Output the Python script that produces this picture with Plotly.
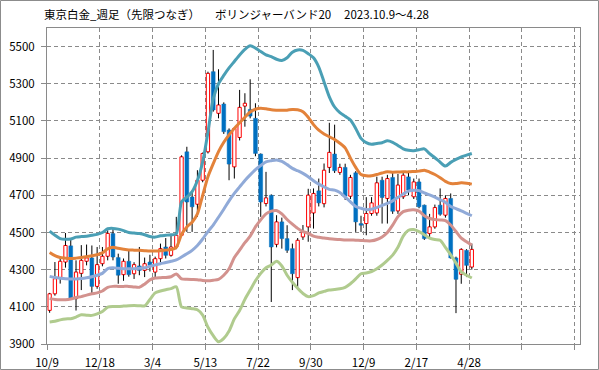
import plotly.graph_objects as go

# ---- data (weekly candles, 2023-10-09 .. 2025-04-28) ----
opens = [4081, 4170, 4258, 4341, 4428, 4144, 4280, 4345, 4363, 4210,
         4332, 4372, 4494, 4365, 4273, 4345, 4278, 4320, 4296, 4341,
         4287, 4359, 4422, 4377, 4422, 4485, 4934, 4691, 4652, 4781,
         4934, 5365, 5141, 5191, 5051, 4853, 5011, 5180, 5162, 5114,
         4922, 4656, 4700, 4436, 4557, 4467, 4413, 4257, 4476, 4530,
         4605, 4724, 4655, 4850, 4922, 4823, 4850, 4695, 4821, 4548,
         4548, 4602, 4605, 4781, 4683, 4796, 4616, 4692, 4799, 4692,
         4772, 4647, 4494, 4530, 4647, 4593, 4683, 4363, 4275, 4404,
         4314]
highs = [4175, 4341, 4372, 4497, 4460, 4350, 4432, 4435, 4430, 4422,
         4422, 4512, 4520, 4386, 4360, 4404, 4340, 4422, 4365, 4380,
         4370, 4440, 4470, 4490, 4584, 4915, 4961, 4720, 4835, 4930,
         5365, 5482, 5378, 5200, 5060, 5065, 5267, 5249, 5324, 5195,
         4925, 4826, 4705, 4593, 4580, 4539, 4440, 4470, 4540, 4735,
         4737, 4790, 4871, 5090, 5080, 4870, 4870, 4810, 4830, 4590,
         4690, 4690, 4800, 4800, 4810, 4820, 4815, 4820, 4830, 4790,
         4790, 4650, 4600, 4650, 4737, 4700, 4710, 4370, 4415, 4410,
         4440]
lows = [4068, 4160, 4225, 4311, 4140, 4080, 4190, 4323, 4165, 4197,
        4318, 4350, 4350, 4224, 4240, 4262, 4250, 4270, 4260, 4290,
        4260, 4340, 4360, 4370, 4410, 4485, 4503, 4503, 4584, 4770,
        4925, 5150, 5114, 5030, 4781, 4790, 4995, 5069, 5114, 4910,
        4584, 4640, 4126, 4420, 4413, 4390, 4190, 4197, 4460, 4450,
        4521, 4640, 4635, 4820, 4820, 4810, 4675, 4680, 4503, 4503,
        4485, 4590, 4590, 4548, 4548, 4600, 4600, 4680, 4700, 4680,
        4630, 4460, 4470, 4520, 4590, 4580, 4360, 4066, 4224, 4260,
        4300]
closes = [4170, 4251, 4345, 4430, 4144, 4287, 4350, 4363, 4210, 4327,
          4372, 4495, 4368, 4270, 4345, 4273, 4327, 4296, 4332, 4323,
          4359, 4413, 4377, 4422, 4485, 4907, 4664, 4638, 4781, 4925,
          5356, 5159, 5186, 5042, 4868, 5060, 5173, 5195, 5126, 4925,
          4664, 4686, 4422, 4557, 4467, 4404, 4278, 4458, 4503, 4701,
          4710, 4659, 4835, 4931, 4832, 4850, 4695, 4796, 4557, 4539,
          4602, 4659, 4767, 4688, 4790, 4614, 4755, 4808, 4728, 4772,
          4638, 4467, 4530, 4634, 4598, 4683, 4363, 4248, 4409, 4323,
          4409]

# Bollinger band (20) lines
upper2 = [4507, 4485, 4467, 4463, 4465, 4475, 4478, 4480, 4485, 4490,
          4500, 4520, 4522, 4518, 4510, 4500, 4497, 4494, 4488, 4478,
          4475, 4482, 4485, 4488, 4492, 4665, 4690, 4720, 4780, 4880,
          5040, 5220, 5300, 5345, 5385, 5420, 5455, 5485, 5504, 5492,
          5473, 5455, 5446, 5432, 5425, 5440, 5470, 5482, 5480, 5462,
          5440, 5390, 5310, 5230, 5175, 5145, 5125, 5105, 5060, 5006,
          4983, 4975, 4979, 4983, 4993, 4985, 4968, 4950, 4942, 4940,
          4945, 4950, 4924, 4902, 4878, 4857, 4877, 4893, 4907, 4916,
          4925]
upper1 = [4392, 4375, 4365, 4362, 4360, 4362, 4365, 4370, 4375, 4380,
          4390, 4412, 4420, 4415, 4410, 4406, 4405, 4404, 4402, 4400,
          4400, 4402, 4405, 4408, 4420, 4490, 4530, 4555, 4600, 4700,
          4800, 4870, 4935, 4985, 5025, 5060, 5090, 5120, 5148, 5163,
          5168, 5165, 5160, 5158, 5157, 5158, 5162, 5160, 5150, 5120,
          5080, 5050, 5030, 5015, 5000, 4980, 4955, 4900, 4850, 4812,
          4805, 4805, 4812, 4820, 4826, 4824, 4825, 4826, 4826, 4828,
          4830, 4835, 4825, 4812, 4795, 4775, 4763, 4763, 4767, 4765,
          4760]
middle = [4264, 4258, 4254, 4251, 4250, 4250, 4252, 4256, 4262, 4270,
          4280, 4305, 4310, 4307, 4305, 4305, 4305, 4307, 4310, 4318,
          4325, 4332, 4338, 4345, 4352, 4368, 4385, 4404, 4430, 4465,
          4505, 4540, 4582, 4625, 4670, 4710, 4745, 4780, 4810, 4838,
          4860, 4880, 4886, 4890, 4882, 4865, 4845, 4832, 4818, 4800,
          4778, 4760, 4745, 4732, 4728, 4715, 4690, 4665, 4640, 4630,
          4623, 4625, 4634, 4645, 4656, 4670, 4689, 4707, 4722, 4727,
          4725, 4713, 4702, 4690, 4676, 4662, 4640, 4628, 4616, 4603,
          4590]
lower1 = [4144, 4140, 4138, 4138, 4142, 4150, 4155, 4163, 4170, 4175,
          4185, 4205, 4210, 4210, 4210, 4210, 4207, 4205, 4222, 4245,
          4255, 4257, 4258, 4262, 4277, 4250, 4248, 4247, 4246, 4242,
          4240, 4243, 4248, 4270, 4305, 4365, 4405, 4445, 4480, 4530,
          4568, 4600, 4615, 4618, 4600, 4570, 4545, 4522, 4505, 4495,
          4480, 4474, 4470, 4466, 4463, 4462, 4460, 4460, 4458, 4457,
          4455, 4455, 4462, 4476, 4500, 4540, 4585, 4612, 4620, 4622,
          4615, 4590, 4575, 4570, 4567, 4564, 4540, 4505, 4470, 4450,
          4432]
lower2 = [4018, 4022, 4030, 4035, 4036, 4045, 4057, 4055, 4054, 4062,
          4075, 4098, 4102, 4102, 4104, 4106, 4107, 4106, 4105, 4140,
          4175, 4185, 4192, 4198, 4208, 4099, 4094, 4090, 4084, 4055,
          3990, 3945, 3912, 3930, 3970, 4035, 4080, 4140, 4190, 4240,
          4280, 4310, 4325, 4345, 4320, 4270, 4232, 4200, 4172, 4155,
          4160, 4175, 4183, 4190, 4193, 4197, 4205, 4224, 4250, 4278,
          4282, 4290, 4305, 4325, 4350, 4378, 4420, 4480, 4512, 4516,
          4505, 4488, 4469, 4462, 4458, 4420, 4380, 4335, 4288, 4270,
          4255]

tick_labels = ["10/9", "12/18", "3/4", "5/13", "7/22", "9/30", "12/9",
               "2/17", "4/28", "", ""]
y_ticks = [3900, 4100, 4300, 4500, 4700, 4900, 5100, 5300, 5500]

# ---- figure ----
n = len(closes)
xs = [i + 0.5 for i in range(n)]

fig = go.Figure()

# wicks (split around the body so hollow bodies stay clean)
wx, wy = [], []
for x, o, h, l, c in zip(xs, opens, highs, lows, closes):
    top, bot = max(o, c), min(o, c)
    if h > top:
        wx += [x, x, None]
        wy += [h, top, None]
    if l < bot:
        wx += [x, x, None]
        wy += [bot, l, None]
fig.add_trace(go.Scatter(x=wx, y=wy, mode="lines",
                         line=dict(color="black", width=1),
                         hoverinfo="skip", showlegend=False))

up_x, up_b, up_h, dn_x, dn_b, dn_h = [], [], [], [], [], []
for x, o, c in zip(xs, opens, closes):
    if c >= o:
        up_x.append(x); up_b.append(o); up_h.append(max(c - o, 4))
    else:
        dn_x.append(x); dn_b.append(c); dn_h.append(o - c)

fig.add_trace(go.Bar(x=up_x, y=up_h, base=up_b, width=0.62,
                     marker=dict(color="white", line=dict(color="#FF0000", width=1)),
                     showlegend=False))
fig.add_trace(go.Bar(x=dn_x, y=dn_h, base=dn_b, width=0.72,
                     marker=dict(color="#0070C0", line=dict(color="#0070C0", width=0.5)),
                     showlegend=False))

band_styles = [
    (upper2, "#4A9FB5"),
    (upper1, "#E3823A"),
    (middle, "#90AAD8"),
    (lower1, "#D3928E"),
    (lower2, "#B0CB8E"),
]
for vals, col in band_styles:
    fig.add_trace(go.Scatter(x=xs, y=vals, mode="lines",
                             line=dict(color=col, width=3, shape="spline", smoothing=0.7),
                             hoverinfo="skip", showlegend=False))

L, R, T, B = 47, 19, 28, 26
W, H = 599, 370
pw, ph = W - L - R, H - T - B

def px_x(p):
    return (p - L) / pw

def px_y(p):
    return (H - B - p) / ph

title_font = dict(family="Noto Sans CJK JP", size=11.5, color="black")
for txt, xpx in [("東京白金_週足（先限つなぎ）", 42), ("ボリンジャーバンド20", 213),
                 ("2023.10.9～4.28", 342)]:
    fig.add_annotation(text=txt, xref="paper", yref="paper",
                       x=px_x(xpx), y=px_y(14.5), xanchor="left", yanchor="middle",
                       showarrow=False, font=title_font)

fig.add_shape(type="rect", xref="paper", yref="paper",
              x0=px_x(0.5), x1=px_x(598.5), y0=px_y(369.5), y1=px_y(0.5),
              line=dict(color="#8C8C8C", width=1), layer="below")

grid = "#8A8A8A"
fig.update_layout(
    width=W, height=H,
    margin=dict(l=L, r=R, t=T, b=B, autoexpand=False),
    paper_bgcolor="white", plot_bgcolor="white",
    barmode="overlay", bargap=0,
    showlegend=False,
    font=dict(family="Noto Sans CJK JP", size=11, color="black"),
    xaxis=dict(range=[0, 101], tickmode="array",
               tickvals=[10 * k for k in range(len(tick_labels))],
               ticktext=tick_labels, automargin=False,
               showgrid=True, gridcolor=grid, griddash="4px,3px", gridwidth=1,
               showline=True, linecolor=grid, linewidth=1, mirror=True,
               ticks="outside", ticklen=5, tickcolor=grid,
               ticklabelstandoff=3, zeroline=False,
               tickfont=dict(size=11.5)),
    yaxis=dict(range=[3900, 5600], tickmode="array", tickvals=y_ticks,
               ticktext=[str(v) for v in y_ticks], automargin=False,
               showgrid=True, gridcolor=grid, griddash="4px,3px", gridwidth=1,
               showline=True, linecolor=grid, linewidth=1, mirror=True,
               ticks="outside", ticklen=5, tickcolor=grid,
               ticklabelstandoff=4, zeroline=False,
               tickfont=dict(size=11.5)),
)

fig.write_html("out.html",
               config={"displayModeBar": False, "staticPlot": True},
               post_script="document.body.style.margin='0';document.body.style.overflow='hidden';")
